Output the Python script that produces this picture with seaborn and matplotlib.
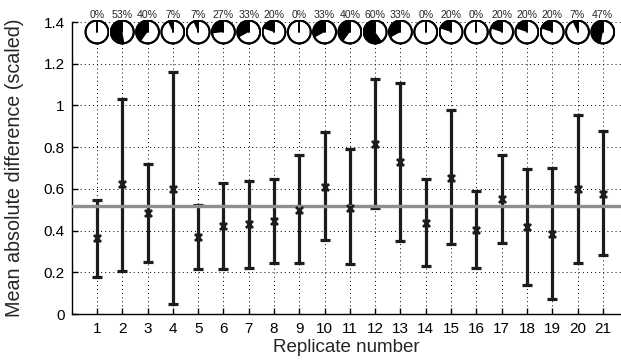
import numpy as np
import pandas as pd
import matplotlib
matplotlib.use("Agg")
import matplotlib.pyplot as plt
import seaborn as sns
from matplotlib.patches import Circle, Wedge

replicates = list(range(1, 22))
means = [0.363, 0.622, 0.484, 0.601, 0.368, 0.422, 0.430, 0.446, 0.500, 0.611, 0.507,
         0.815, 0.727, 0.435, 0.654, 0.404, 0.550, 0.416, 0.384, 0.598, 0.577]
upper = [0.547, 1.033, 0.719, 1.159, 0.524, 0.627, 0.638, 0.649, 0.763, 0.871, 0.791,
         1.126, 1.108, 0.646, 0.977, 0.590, 0.764, 0.694, 0.700, 0.956, 0.876]
lower = [0.179, 0.208, 0.249, 0.046, 0.214, 0.217, 0.219, 0.246, 0.246, 0.355, 0.238,
         0.508, 0.349, 0.229, 0.334, 0.219, 0.340, 0.141, 0.073, 0.243, 0.281]
percent = [0, 53, 40, 7, 7, 27, 33, 20, 0, 33, 40, 60, 33, 0, 20, 0, 20, 20, 20, 7, 47]
ref_level = 0.52
y_ticks = [0, 0.2, 0.4, 0.6, 0.8, 1.0, 1.2, 1.4]
y_tick_labels = ['0', '0.2', '0.4', '0.6', '0.8', '1', '1.2', '1.4']

sns.set_style("white")
plt.rcParams['font.family'] = ['Liberation Sans', 'DejaVu Sans']

W, H = 621, 362
fig = plt.figure(figsize=(W / 100, H / 100), dpi=100)
ax = fig.add_axes([71.7 / W, 48 / H, (W - 71.7) / W, (340 - 48) / H])

df = pd.DataFrame({'rep': replicates, 'mean': means, 'upper': upper, 'lower': lower})
err = [df['mean'] - df['lower'], df['upper'] - df['mean']]
ax.errorbar(df['rep'], df['mean'], yerr=err, fmt='none', ecolor='#1c1c1c',
            elinewidth=2.3, capsize=3.6, capthick=2.3, zorder=3)
ax.axhline(ref_level, color='#8e8e8e', lw=2.4, zorder=4)
sns.scatterplot(data=df, x='rep', y='mean', marker='x', s=26, color='#1c1c1c',
                linewidth=2.0, ax=ax, zorder=5, legend=False)

ax.set_xlim(0, 21.72)
ax.set_ylim(0, 1.4)
ax.set_xticks(replicates)
ax.set_yticks(y_ticks)
ax.set_yticklabels(y_tick_labels)
ax.grid(True, linestyle=(0, (1, 3.2)), color='black', linewidth=0.7)
ax.set_axisbelow(True)
ax.tick_params(direction='in', length=4, width=1, labelsize=11, colors='black',
               left=True, bottom=True, top=False, right=False)
ax.tick_params(axis='x', pad=6)
ax.tick_params(axis='y', pad=5)
sns.despine(ax=ax)
for s in ['left', 'bottom']:
    ax.spines[s].set_color('black')
    ax.spines[s].set_linewidth(1.0)
ax.set_xlabel('Replicate number', fontsize=13.5, labelpad=2)
ax.set_ylabel('Mean absolute difference (scaled)', fontsize=14.2)
ax.yaxis.set_label_coords(-(71.7 - 24) / (W - 71.7), 0.5)

fig.canvas.draw()
for rep, p in zip(replicates, percent):
    px = ax.transData.transform((rep, 0))[0]
    cy = H - 32
    r = 12.5
    pax = fig.add_axes([(px - r) / W, (cy - r) / H, 2 * r / W, 2 * r / H])
    pax.set_xlim(-1.05, 1.05)
    pax.set_ylim(-1.05, 1.05)
    pax.axis('off')
    pax.add_patch(Circle((0, 0), 0.96, fc='white', ec='black', lw=1.4))
    if p > 0:
        pax.add_patch(Wedge((0, 0), 0.96, 90, 90 + 360 * p / 100, fc='black', ec='none'))
    pax.plot([0, 0], [0, 0.96], color='black', lw=1.4)
    pax.add_patch(Circle((0, 0), 0.96, fc='none', ec='black', lw=1.4))
    fig.text(px / W, (H - 14.5) / H, f"{p}%", ha='center', va='center', fontsize=7.6)

fig.savefig('out.png', dpi=100)
